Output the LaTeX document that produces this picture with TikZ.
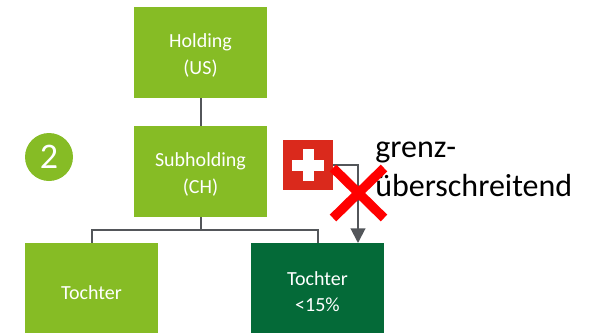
\documentclass[tikz,border=0pt]{standalone}
\usepackage{fontspec}
\setmainfont{Carlito}
\definecolor{lightgreen}{HTML}{86BC25}
\definecolor{darkgreen}{HTML}{046A38}
\definecolor{linegrey}{HTML}{53565A}
\definecolor{flagred}{HTML}{DA291C}
\tikzset{
    box/.style={fill=lightgreen, text=white, align=center, minimum width=99.75pt, minimum height=68.25pt, inner sep=0pt, font=\fontsize{15}{20}\selectfont, text height=35pt},
    single/.style={text height=16pt}, % box with one line of text
    darkbox/.style={style=box, fill=darkgreen},
    badge/.style={circle, fill=lightgreen, text=white, minimum size=36pt, inner sep=0pt, font=\fontsize{27}{30}\selectfont},
    te/.style={draw=linegrey, line width=1.5pt},
    ae/.style={style=te, -{Triangle[length=11pt, width=11pt]}},
    flagbox/.style={fill=flagred, minimum size=37.5pt, inner sep=0pt},
    flagbar/.style={fill=white, inner sep=0pt},
    nope/.style={draw=red, line width=7pt},
    note/.style={align=left, inner sep=0pt, font=\fontsize{24}{29}\selectfont}
}
\usetikzlibrary{arrows.meta}
\begin{document}
\begin{tikzpicture}[x=0.75pt, y=-0.75pt]
        \useasboundingbox (0, 0) rectangle (596, 332);

        \node[box] (holding) at (200.5, 52.5)
        {Holding\\(US)};
        \node[box] (sub) at (200.5, 171.5)
        {Subholding\\(CH)};
        \node[box, single] (tochter) at (91.5, 288.5)
        {Tochter};
        \node[darkbox] (tochterklein) at (317.5, 288.5)
        {Tochter\\<15\%};
        \node[badge] (nummer) at (49, 157)
        {2};
        \node[flagbox] (flag) at (308, 165) {};
        \node[flagbar, minimum width=24pt, minimum height=8.25pt] (flagh) at (flag) {};
        \node[flagbar, minimum width=8.25pt, minimum height=24pt] (flagv) at (flag) {};
        \node[note, anchor=north west] (grenz) at (375, 142)
        {grenz-\\überschreitend};

        \coordinate (abzweig) at (200.5, 230);
        \coordinate (pfeil) at (358, 243);
        \coordinate (xa) at (333, 168);
        \coordinate (xb) at (384, 218);
        \coordinate (xc) at (384, 168);
        \coordinate (xd) at (333, 218);

        \draw[te] (holding) -- (sub);
        \draw[te] (sub) -- (abzweig);
        \draw[te] (tochter.north) |- (abzweig) -| (tochterklein.north);
        \draw[ae] (flag.east) -| (pfeil);
        \draw[nope] (xa) -- (xb);
        \draw[nope] (xc) -- (xd);
      \end{tikzpicture}
\end{document}
